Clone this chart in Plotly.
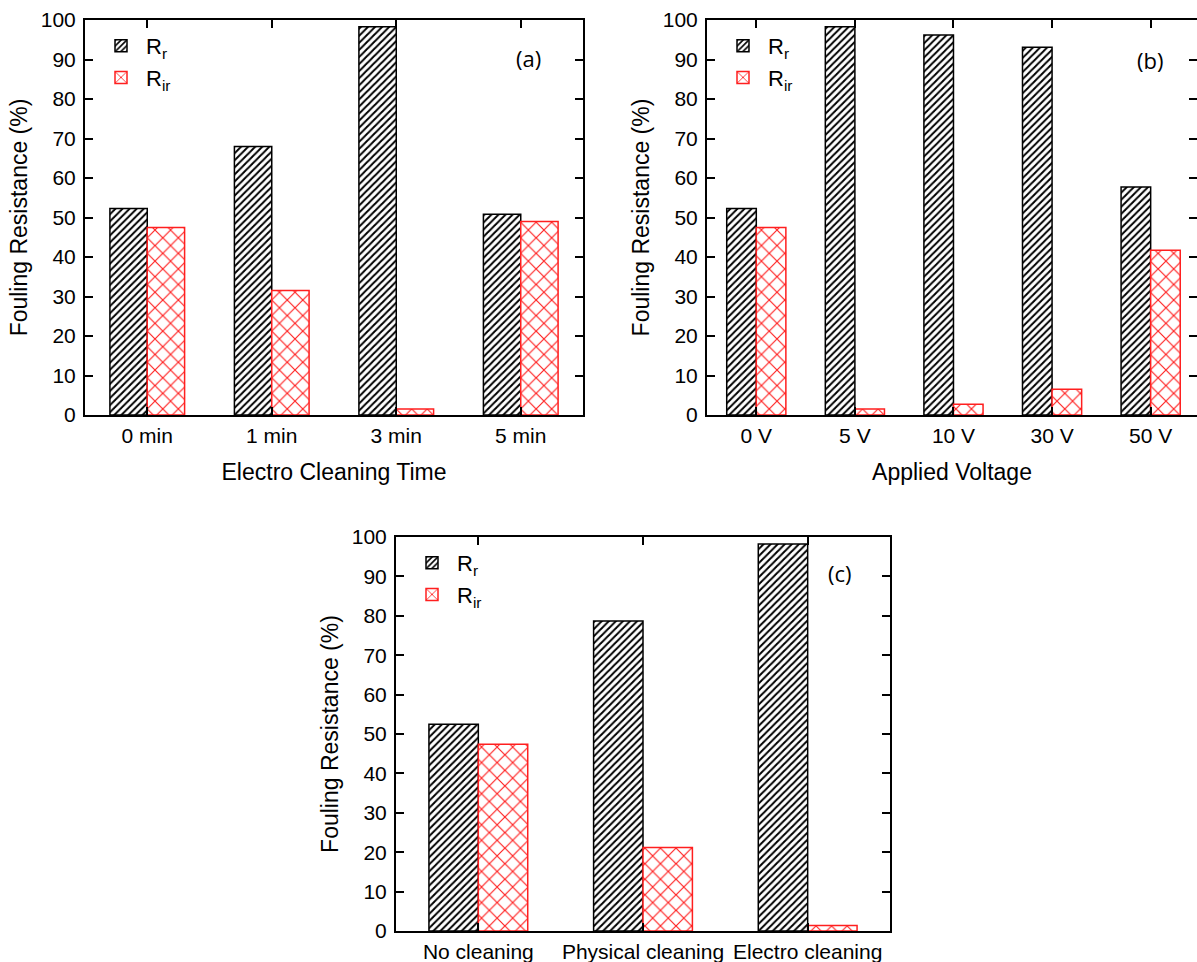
import plotly.graph_objects as go

# ---- data ----
cat_a = ["0 min", "1 min", "3 min", "5 min"]
rr_a = [52.3, 68.0, 98.3, 50.8]
rir_a = [47.5, 31.5, 1.5, 49.0]

cat_b = ["0 V", "5 V", "10 V", "30 V", "50 V"]
rr_b = [52.3, 98.3, 96.2, 93.1, 57.7]
rir_b = [47.5, 1.5, 2.7, 6.5, 41.7]

cat_c = ["No cleaning", "Physical cleaning", "Electro cleaning"]
rr_c = [52.5, 78.7, 98.2]
rir_c = [47.4, 21.2, 1.4]

y_ticks = [0, 10, 20, 30, 40, 50, 60, 70, 80, 90, 100]

W, H = 1197, 962
FONT = "Liberation Sans, Arial, sans-serif"
RED = "#ff1f1f"

def px_x(p):
    return p / W

def px_y(p):
    return 1 - p / H

fig = go.Figure()

panels = [
    (cat_a, rr_a, rir_a, "x", "y", "legend"),
    (cat_b, rr_b, rir_b, "x2", "y2", "legend2"),
    (cat_c, rr_c, rir_c, "x3", "y3", "legend3"),
]
for cats, rr, rir, xa, ya, lg in panels:
    fig.add_trace(go.Bar(
        x=cats, y=rr, name="R<sub>r</sub>", xaxis=xa, yaxis=ya, legend=lg,
        offsetgroup="rr",
        marker=dict(color="white", line=dict(color="black", width=1.5),
                    pattern=dict(shape="/", fgcolor="black", bgcolor="white",
                                 size=5, solidity=0.4, fillmode="replace")),
    ))
    fig.add_trace(go.Bar(
        x=cats, y=rir, name="R<sub>ir</sub>", xaxis=xa, yaxis=ya, legend=lg,
        offsetgroup="rir",
        marker=dict(color="white", line=dict(color=RED, width=1.5),
                    pattern=dict(shape="x", fgcolor=RED, bgcolor="white",
                                 size=11, solidity=0.2, fillmode="replace")),
    ))

common_x = dict(type="category", showline=True, linewidth=2, linecolor="black",
                mirror="ticks", ticks="inside", ticklen=8, tickwidth=2,
                tickcolor="black", showgrid=False, zeroline=False,
                tickfont=dict(family=FONT, size=21, color="black"),
                tickangle=0, automargin=False,
                ticklabelstandoff=1)
common_y = dict(range=[0, 100], tickvals=y_ticks, showline=True, linewidth=2,
                linecolor="black", mirror="ticks", ticks="inside", ticklen=8,
                tickwidth=2, tickcolor="black", showgrid=False, zeroline=False,
                tickfont=dict(family=FONT, size=21, color="black"),
                automargin=False, ticklabelstandoff=3,
                title=dict(text="Fouling Resistance (%)",
                           font=dict(family=FONT, size=23, color="black"),
                           standoff=7))

legend_common = dict(bgcolor="rgba(0,0,0,0)", borderwidth=0,
                     font=dict(family=FONT, size=22, color="black"),
                     xanchor="left", yanchor="top", tracegroupgap=0,
                     traceorder="normal", itemwidth=40)

fig.update_layout(
    width=W, height=H,
    margin=dict(l=0, r=0, t=0, b=0, autoexpand=False),
    paper_bgcolor="white", plot_bgcolor="white",
    barmode="group", bargap=0.4, bargroupgap=0,
    xaxis=dict(common_x, domain=[px_x(85), px_x(583)], range=[-0.5, 3.5],
               anchor="y",
               title=dict(text="Electro Cleaning Time",
                          font=dict(family=FONT, size=23, color="black"),
                          standoff=18)),
    yaxis=dict(common_y, domain=[px_y(415), px_y(20)], anchor="x"),
    xaxis2=dict(common_x, domain=[px_x(707), 1.0], range=[-0.5, 4.47],
                anchor="y2",
                title=dict(text="Applied Voltage",
                           font=dict(family=FONT, size=23, color="black"),
                           standoff=18)),
    yaxis2=dict(common_y, domain=[px_y(415), px_y(20)], anchor="x2"),
    xaxis3=dict(common_x, domain=[px_x(396), px_x(890)], range=[-0.5, 2.5],
                anchor="y3"),
    yaxis3=dict(common_y, domain=[px_y(931), px_y(537)], anchor="x3"),
    legend=dict(legend_common, x=px_x(96), y=px_y(25)),
    legend2=dict(legend_common, x=px_x(718), y=px_y(25)),
    legend3=dict(legend_common, x=px_x(407), y=px_y(542)),
    showlegend=True,
)

lab_font = dict(family="Open Sans, sans-serif", size=22, color="black")
for txt, xp, yp in [("(a)", 528, 58), ("(b)", 1150, 60), ("(c)", 840, 573)]:
    fig.add_annotation(text=txt, x=px_x(xp), y=px_y(yp), xref="paper",
                       yref="paper", showarrow=False, font=lab_font,
                       xanchor="center", yanchor="middle")

fig.write_html("out.html")
